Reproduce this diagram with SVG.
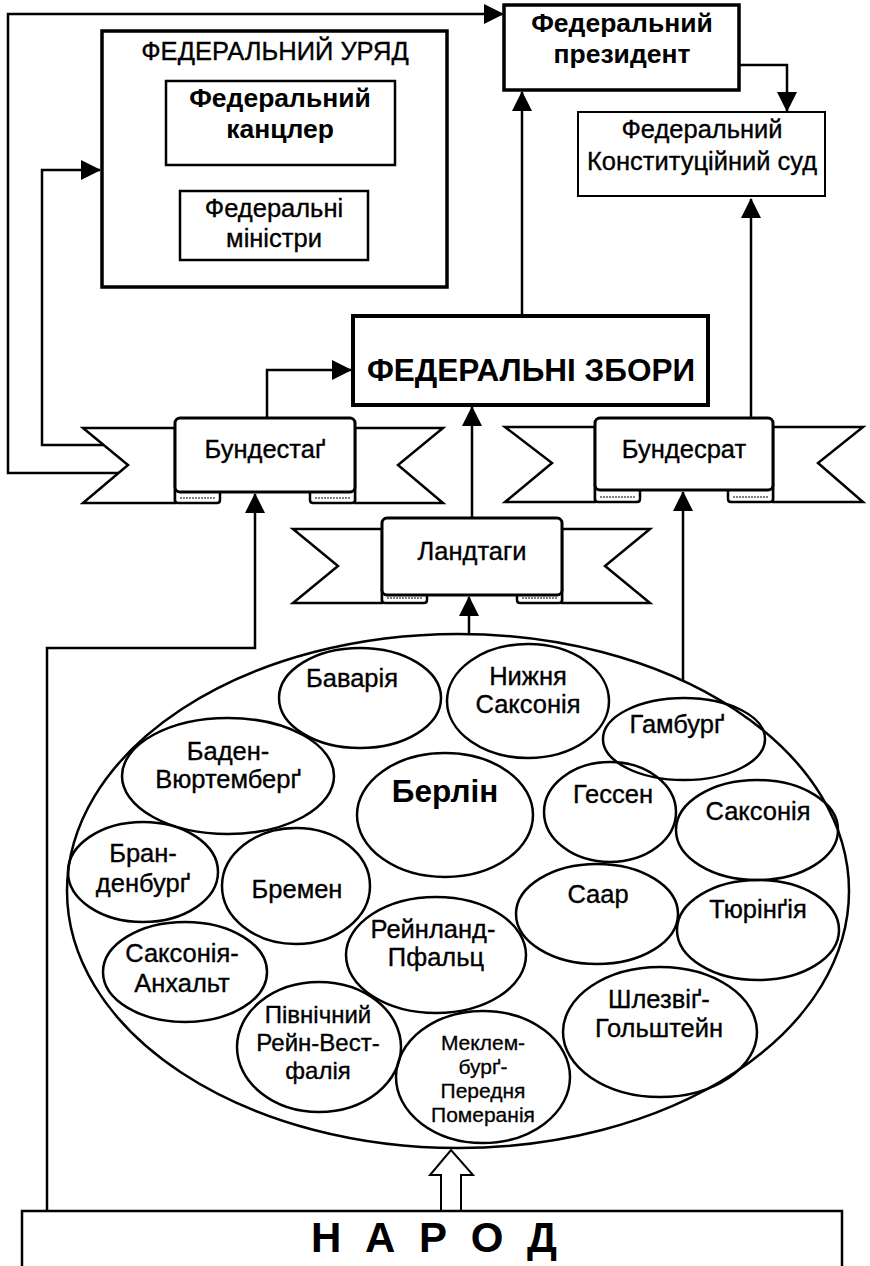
<svg xmlns="http://www.w3.org/2000/svg" width="870" height="1266" viewBox="0 0 870 1266">
<defs>
<marker id="ah" markerUnits="userSpaceOnUse" markerWidth="20" markerHeight="20" refX="19" refY="10" orient="auto"><path d="M0,0 L20,10 L0,20 z" fill="#000"/></marker>
</defs>
<style>
.t{font-family:"Liberation Sans",Arial,sans-serif;fill:#000;text-anchor:middle}
.r{font-size:25.5px;stroke:#000;stroke-width:0.35}
.m{font-size:24px;stroke:#000;stroke-width:0.35}
.s{font-size:21px;stroke:#000;stroke-width:0.3}
.b{font-weight:bold}
.bb{font-size:26.5px;font-weight:bold}
.box{fill:#fff;stroke:#000}
.c{fill:none;stroke:#000;stroke-width:2.5}
.e{fill:none;stroke:#000;stroke-width:2.5}
.tail{fill:#fff;stroke:#000;stroke-width:2.5}
.curl{fill:#fff;stroke:#000;stroke-width:2.5}
.fold{fill:none;stroke:#000;stroke-width:1;stroke-dasharray:2 1}
.rb{fill:#fff;stroke:#000;stroke-width:3}
</style>
<rect width="870" height="1266" fill="#fff"/>

<g id="connectors">
<path class="c" d="M120,473 H8 V14 H503" marker-end="url(#ah)"/>
<path class="c" d="M104,445 H42 V170 H100" marker-end="url(#ah)"/>
<path class="c" d="M739,65 H787 V111" marker-end="url(#ah)"/>
<path class="c" d="M522,316 V92" marker-end="url(#ah)"/>
<path class="c" d="M751,418 V199" marker-end="url(#ah)"/>
<path class="c" d="M267,418 V370 H351" marker-end="url(#ah)"/>
<path class="c" d="M472,518 V407" marker-end="url(#ah)"/>
<path class="c" d="M469,635 V597" marker-end="url(#ah)"/>
<path class="c" d="M683,680 V492" marker-end="url(#ah)"/>
<path class="c" d="M47,1211 V648 H255 V494" marker-end="url(#ah)"/>
<polygon points="441,1211 441,1175 430,1175 451,1150 473,1175 461,1175 461,1211" fill="#fff" stroke="#000" stroke-width="2"/>
</g>

<g id="uriad">
<rect class="box" x="102" y="31" width="345" height="256" stroke-width="3.5"/>
<text class="t r" x="275" y="60">ФЕДЕРАЛЬНИЙ УРЯД</text>
</g>
<g id="kantsler">
<rect class="box" x="166" y="81" width="229" height="84" stroke-width="2.5"/>
<text class="t bb" x="280" y="107">Федеральний</text>
<text class="t bb" x="280" y="138">канцлер</text>
</g>
<g id="ministry">
<rect class="box" x="180" y="191" width="188" height="69" stroke-width="2.5"/>
<text class="t r" x="274" y="217">Федеральні</text>
<text class="t r" x="274" y="247">міністри</text>
</g>
<g id="prezydent">
<rect class="box" x="504" y="5" width="235" height="85" stroke-width="3.5"/>
<text class="t bb" x="622" y="32">Федеральний</text>
<text class="t bb" x="622" y="63">президент</text>
</g>
<g id="sud">
<rect class="box" x="578" y="112" width="247" height="84" stroke-width="2"/>
<text class="t r" x="702" y="138">Федеральний</text>
<text class="t r" x="702" y="170">Конституційний суд</text>
</g>
<g id="zbory">
<rect class="box" x="353" y="316" width="355" height="89" stroke-width="4"/>
<text class="t b" font-size="31.5" x="531" y="381">ФЕДЕРАЛЬНІ ЗБОРИ</text>
</g>

<g id="bundestag">
<polygon class="tail" points="175,428 83,428 128,465 83,503 175,503"/>
<polygon class="tail" points="355,428 443,428 398,465 443,503 355,503"/>
<path class="curl" d="M175,488 V500 Q175,503 178,503 H217 Q220,503 220,500 V488 Z"/>
<path class="curl" d="M310,488 V500 Q310,503 313,503 H352 Q355,503 355,500 V488 Z"/>
<line class="fold" x1="180" y1="498" x2="215" y2="498"/>
<line class="fold" x1="315" y1="498" x2="350" y2="498"/>
<rect class="rb" x="175" y="418" width="180" height="74" rx="5"/>
<text class="t r" x="265" y="458">Бундестаґ</text>
</g>
<g id="bundesrat">
<polygon class="tail" points="595,427 505,427 552,463 505,502 595,502"/>
<polygon class="tail" points="773,427 863,427 818,463 863,502 773,502"/>
<path class="curl" d="M595,486 V499 Q595,502 598,502 H637 Q640,502 640,499 V486 Z"/>
<path class="curl" d="M728,486 V499 Q728,502 731,502 H770 Q773,502 773,499 V486 Z"/>
<line class="fold" x1="600" y1="497" x2="635" y2="497"/>
<line class="fold" x1="733" y1="497" x2="768" y2="497"/>
<rect class="rb" x="595" y="418" width="178" height="72" rx="5"/>
<text class="t r" x="684" y="458">Бундесрат</text>
</g>
<g id="landtagy">
<polygon class="tail" points="382,529 293,529 338,566 293,603 382,603"/>
<polygon class="tail" points="562,529 650,529 605,566 650,603 562,603"/>
<path class="curl" d="M382,590 V600 Q382,603 385,603 H424 Q427,603 427,600 V590 Z"/>
<path class="curl" d="M517,590 V600 Q517,603 520,603 H559 Q562,603 562,600 V590 Z"/>
<line class="fold" x1="387" y1="598" x2="422" y2="598"/>
<line class="fold" x1="522" y1="598" x2="557" y2="598"/>
<rect class="rb" x="382" y="518" width="180" height="77" rx="5"/>
<text class="t r" x="472" y="560">Ландтаги</text>
</g>

<g id="zemli">
<ellipse class="e" cx="458" cy="891" rx="391" ry="257"/>
</g>
<g id="bavaria"><ellipse class="e" cx="360" cy="698" rx="81" ry="50"/><text class="t r" x="352" y="687">Баварія</text></g>
<g id="nyzhnia-saksonia"><ellipse class="e" cx="528" cy="701" rx="81" ry="57"/><text class="t r" x="528" y="685">Нижня</text><text class="t r" x="528" y="713">Саксонія</text></g>
<g id="baden"><ellipse class="e" cx="228" cy="776" rx="106" ry="58"/><text class="t r" x="228" y="760">Баден-</text><text class="t r" x="228" y="788">Вюртемберґ</text></g>
<g id="berlin"><ellipse class="e" cx="445" cy="815" rx="88" ry="62"/><text class="t b" font-size="31.5" x="445" y="802">Берлін</text></g>
<g id="hamburg"><ellipse class="e" cx="684" cy="739" rx="81" ry="41"/><text class="t r" x="677" y="733">Гамбурґ</text></g>
<g id="hessen"><ellipse class="e" cx="610" cy="812" rx="66" ry="50"/><text class="t r" x="613" y="803">Гессен</text></g>
<g id="saksonia"><ellipse class="e" cx="757" cy="830" rx="81" ry="50"/><text class="t r" x="758" y="820">Саксонія</text></g>
<g id="brandenburg"><ellipse class="e" cx="143" cy="872" rx="75" ry="50"/><text class="t r" x="143" y="862">Бран-</text><text class="t r" x="143" y="892">денбурґ</text></g>
<g id="bremen"><ellipse class="e" cx="296" cy="886" rx="74" ry="58"/><text class="t r" x="297" y="898">Бремен</text></g>
<g id="saar"><ellipse class="e" cx="597" cy="914" rx="81" ry="50"/><text class="t r" x="598" y="903">Саар</text></g>
<g id="thueringen"><ellipse class="e" cx="758" cy="930" rx="81" ry="50"/><text class="t r" x="758" y="918">Тюрінґія</text></g>
<g id="rheinland"><ellipse class="e" cx="436" cy="955" rx="90" ry="58"/><text class="t r" x="433" y="938">Рейнланд-</text><text class="t r" x="436" y="966">Пфальц</text></g>
<g id="sachsen-anhalt"><ellipse class="e" cx="185" cy="972" rx="82" ry="50"/><text class="t r" x="182" y="962">Саксонія-</text><text class="t r" x="182" y="992">Анхальт</text></g>
<g id="nrw"><ellipse class="e" cx="319" cy="1047" rx="82" ry="65"/><text class="t m" x="318" y="1023">Північний</text><text class="t m" x="318" y="1051">Рейн-Вест-</text><text class="t m" x="318" y="1079">фалія</text></g>
<g id="mv"><ellipse class="e" cx="483" cy="1077" rx="87" ry="66"/><text class="t s" x="483" y="1050">Меклем-</text><text class="t s" x="483" y="1074">бурґ-</text><text class="t s" x="483" y="1098">Передня</text><text class="t s" x="483" y="1122">Померанія</text></g>
<g id="sh"><ellipse class="e" cx="660" cy="1032" rx="97" ry="65"/><text class="t r" x="659" y="1008">Шлезвіґ-</text><text class="t r" x="659" y="1037">Гольштейн</text></g>

<g id="narod">
<rect class="box" x="22" y="1211" width="820" height="70" stroke-width="2.5"/>
<text class="t b" font-size="42" letter-spacing="6" x="437" y="1252">Н А Р О Д</text>
</g>
</svg>
